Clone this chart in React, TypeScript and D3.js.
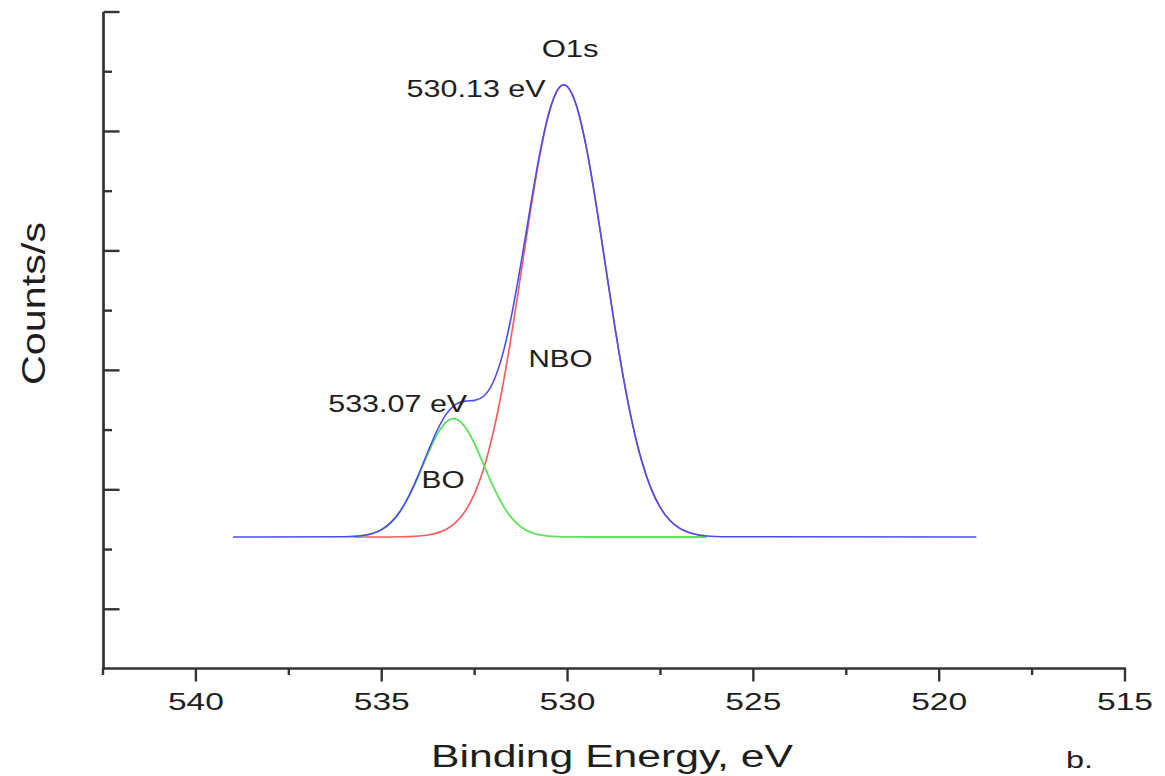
import React from "react";
import * as d3 from "d3";

// ---- data ----
const energies = [
  535.75, 535.5, 535.25, 535.0, 534.75, 534.5, 534.25, 534.0, 533.75, 533.5,
  533.25, 533.07, 533.0, 532.75, 532.5, 532.25, 532.0, 531.75, 531.5, 531.25,
  531.0, 530.75, 530.5, 530.25, 530.1, 530.0, 529.75, 529.5, 529.25, 529.0,
  528.75, 528.5, 528.25, 528.0, 527.75, 527.5, 527.25, 527.0, 526.75, 526.5,
  526.25,
];
const nboCounts = [
  2210, 2210, 2210, 2210, 2211, 2213, 2217, 2226, 2244, 2279,
  2345, 2421, 2459, 2648, 2941, 3369, 3959, 4717, 5626, 6635,
  7658, 8585, 9302, 9709, 9778, 9747, 9411, 8749, 7855, 6842,
  5822, 4888, 4097, 3474, 3015, 2697, 2490, 2363, 2290, 2249,
  2228,
];
const boCounts = [
  2220, 2235, 2268, 2334, 2453, 2643, 2914, 3252, 3615, 3937,
  4145, 4192, 4185, 4047, 3767, 3412, 3056, 2752, 2527, 2379,
  2292, 2246, 2225, 2215, 2213, 2212, 2211, 2210, 2210, 2210,
  2210, 2210, 2210, 2210, 2210, 2210, 2210, 2210, 2210, 2210,
  2210,
];
const envEnergies = [
  539.0, 536.0,
  535.75, 535.5, 535.25, 535.0, 534.75, 534.5, 534.25, 534.0, 533.75, 533.5,
  533.25, 533.07, 533.0, 532.75, 532.5, 532.25, 532.0, 531.75, 531.5, 531.25,
  531.0, 530.75, 530.5, 530.25, 530.1, 530.0, 529.75, 529.5, 529.25, 529.0,
  528.75, 528.5, 528.25, 528.0, 527.75, 527.5, 527.25, 527.0, 526.75, 526.5,
  526.25,
  526.0, 525.75, 519.0,
];
const envCounts = [
  2210, 2213,
  2220, 2235, 2268, 2334, 2454, 2646, 2921, 3268, 3649, 4006,
  4280, 4403, 4434, 4485, 4498, 4571, 4805, 5259, 5943, 6804,
  7740, 8621, 9317, 9714, 9781, 9749, 9412, 8749, 7855, 6842,
  5822, 4888, 4097, 3474, 3015, 2697, 2490, 2363, 2290, 2249,
  2228,
  2218, 2214, 2210,
];

const xMajorTicks = [540, 535, 530, 525, 520, 515];
const xMinorTicks = [542.5, 537.5, 532.5, 527.5, 522.5, 517.5];
const yMajorTicks = [1000, 3000, 5000, 7000, 9000, 11000];
const yMinorTicks = [2000, 4000, 6000, 8000, 10000];

const annotations = [
  { text: "O1s", e: 529.93, c: 10246, w: 57 },
  { text: "530.13 eV", e: 532.46, c: 9581, w: 139 },
  { text: "533.07 eV", e: 534.57, c: 4298, w: 139 },
  { text: "BO", e: 533.35, c: 3025, w: 43 },
  { text: "NBO", e: 530.19, c: 5061, w: 64 },
];

const W = 1165;
const H = 776;
const FONT = "'Liberation Sans', Arial, Helvetica, sans-serif";

export default function App() {
  const x = d3.scaleLinear().domain([542.5, 515]).range([103, 1125]);
  const y = d3.scaleLinear().domain([0, 11000]).range([669, 12]);

  const line = d3
    .line<[number, number]>()
    .x((d) => x(d[0]))
    .y((d) => y(d[1]))
    .curve(d3.curveMonotoneX);

  const nboPath = line(energies.map((e, i) => [e, nboCounts[i]] as [number, number])) || "";
  const boPath = line(energies.map((e, i) => [e, boCounts[i]] as [number, number])) || "";
  const envPath = line(envEnergies.map((e, i) => [e, envCounts[i]] as [number, number])) || "";

  const axisColor = "#333";
  const textColor = "#1e1e1e";
  const xAxisY = 668.5;
  const yAxisX = 103.5;

  return (
    <svg
      width={W}
      height={H}
      style={{ position: "absolute", left: 0, top: 0, background: "#fff" }}
      fontFamily={FONT}
    >
      <rect x={0} y={0} width={W} height={H} fill="#fff" />
      {/* curves */}
      <path d={nboPath} fill="none" stroke="#f45b5b" strokeWidth={1.6} />
      <path d={boPath} fill="none" stroke="#5de35d" strokeWidth={1.8} />
      <path d={envPath} fill="none" stroke="#4c4cf0" strokeWidth={1.6} />

      {/* y axis */}
      <line x1={yAxisX} y1={y(11000)} x2={yAxisX} y2={xAxisY + 1.3} stroke={axisColor} strokeWidth={2.7} />
      {yMajorTicks.map((t) => (
        <line key={"ym" + t} x1={yAxisX} x2={yAxisX + 16} y1={y(t)} y2={y(t)} stroke={axisColor} strokeWidth={2.4} />
      ))}
      {yMinorTicks.map((t) => (
        <line key={"yn" + t} x1={yAxisX} x2={yAxisX + 8.5} y1={y(t)} y2={y(t)} stroke={axisColor} strokeWidth={2.4} />
      ))}

      {/* x axis */}
      <line x1={x(542.5) - 1} y1={xAxisY} x2={x(515) + 1} y2={xAxisY} stroke={axisColor} strokeWidth={2.6} />
      {xMajorTicks.map((t) => (
        <line key={"xm" + t} x1={x(t)} x2={x(t)} y1={xAxisY} y2={xAxisY + 13} stroke={axisColor} strokeWidth={2.4} />
      ))}
      {xMinorTicks.map((t) => (
        <line key={"xn" + t} x1={x(t)} x2={x(t)} y1={xAxisY} y2={xAxisY + 6.5} stroke={axisColor} strokeWidth={2.4} />
      ))}
      {xMajorTicks.map((t) => (
        <text
          key={"xl" + t}
          x={x(t) - 28}
          y={710}
          fontSize={24}
          fill={textColor}
          textLength={56}
          lengthAdjust="spacingAndGlyphs"
        >
          {String(t)}
        </text>
      ))}

      {/* axis titles */}
      <text x={431} y={767} fontSize={31} fill={textColor} textLength={362} lengthAdjust="spacingAndGlyphs">
        Binding Energy, eV
      </text>
      <text x={1066} y={768} fontSize={24} fill={textColor} textLength={27} lengthAdjust="spacingAndGlyphs">
        b.
      </text>
      <text
        transform="translate(45,385) rotate(-90)"
        x={0}
        y={0}
        fontSize={33}
        fill={textColor}
        textLength={163}
        lengthAdjust="spacingAndGlyphs"
      >
        Counts/s
      </text>

      {/* annotations */}
      {annotations.map((a) => (
        <text
          key={a.text}
          x={x(a.e) - a.w / 2}
          y={y(a.c)}
          fontSize={23}
          fill={textColor}
          textLength={a.w}
          lengthAdjust="spacingAndGlyphs"
        >
          {a.text}
        </text>
      ))}
    </svg>
  );
}
